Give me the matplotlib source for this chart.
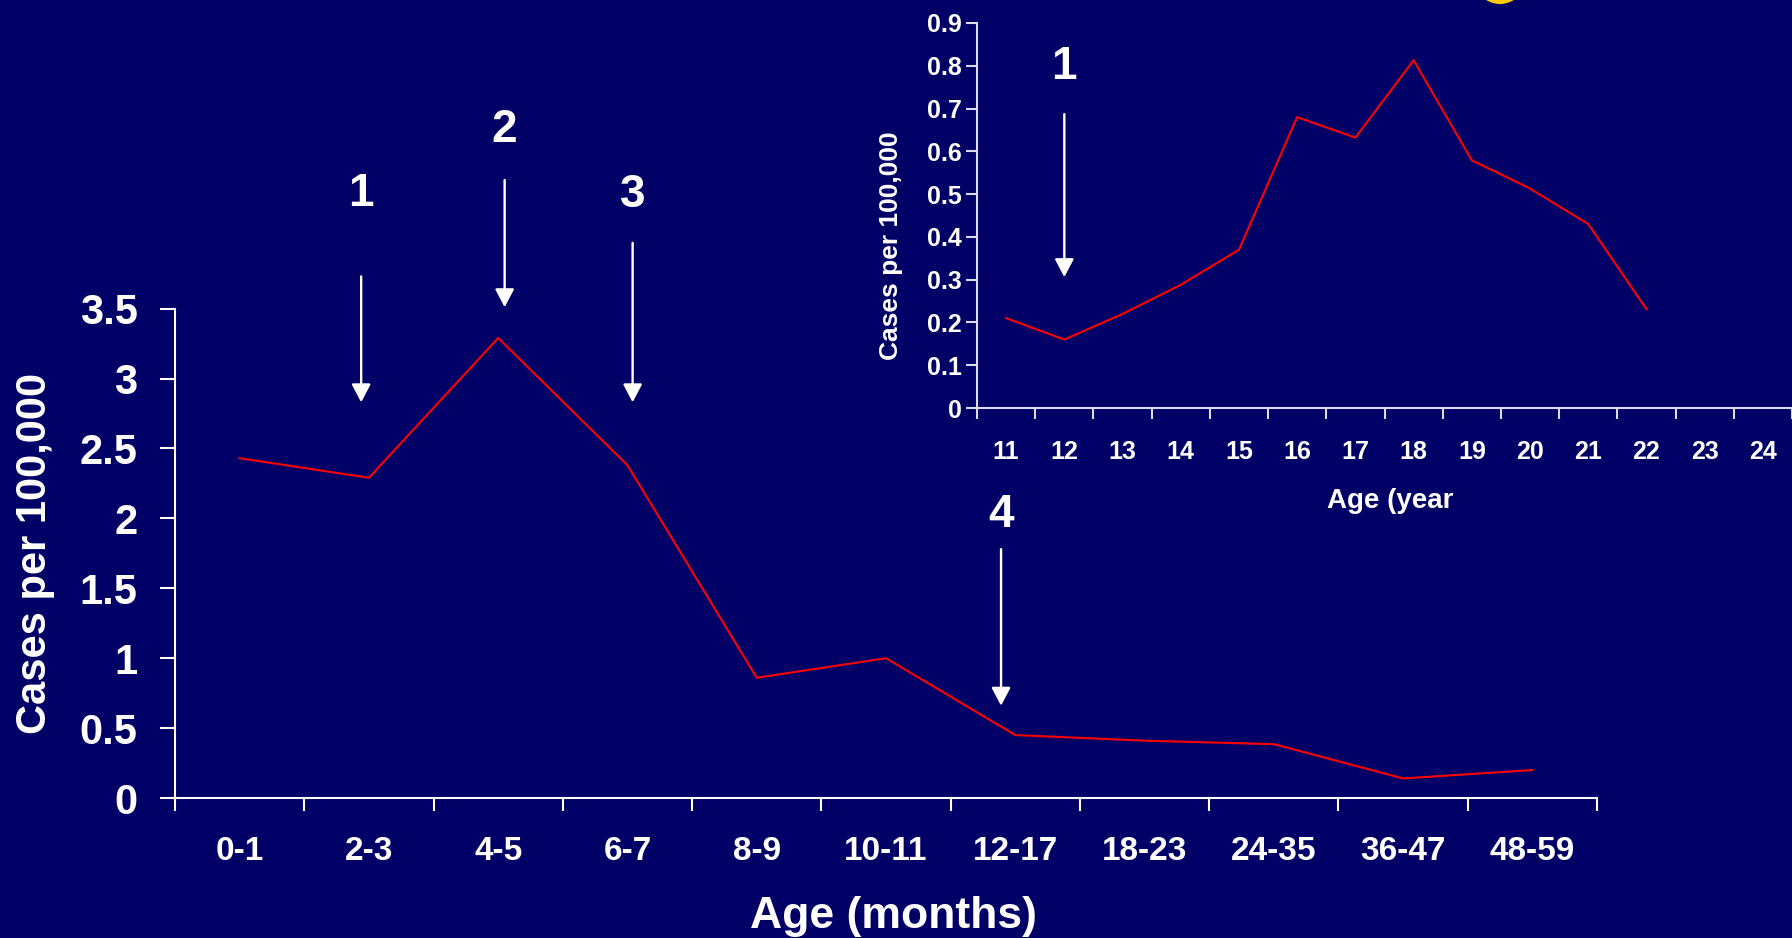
import matplotlib
matplotlib.use('Agg')
import matplotlib.pyplot as plt
import matplotlib.patches as patches

plt.rcParams['font.family'] = ['Liberation Sans', 'DejaVu Sans']
plt.rcParams['font.weight'] = 'bold'

bg = '#000066'
red = '#ff0000'

# incidence by age in months
month_groups = ['0-1', '2-3', '4-5', '6-7', '8-9', '10-11',
                '12-17', '18-23', '24-35', '36-47', '48-59']
month_rates = [2.43, 2.29, 3.29, 2.38, 0.86, 1.00,
               0.45, 0.41, 0.385, 0.14, 0.20]
month_yticks = [0, 0.5, 1, 1.5, 2, 2.5, 3, 3.5]
month_ylabels = ['0', '0.5', '1', '1.5', '2', '2.5', '3', '3.5']

# incidence by age in years
year_groups = ['11', '12', '13', '14', '15', '16', '17', '18',
               '19', '20', '21', '22', '23', '24']
year_rates = [0.21, 0.16, 0.22, 0.288, 0.37, 0.68, 0.632, 0.813,
              0.579, 0.513, 0.43, 0.231]
year_yticks = [0, 0.1, 0.2, 0.3, 0.4, 0.5, 0.6, 0.7, 0.8, 0.9]

# numbered arrows: label, x, arrow top, arrow tip, label y
main_arrows = [('1', 1.44, 3.73, 2.83, 4.32),
               ('2', 2.55, 4.42, 3.51, 4.78),
               ('3', 3.54, 3.97, 2.83, 4.31),
               ('4', 6.39, 1.78, 0.66, 2.025)]
inset_arrows = [('1', 1.50, 0.687, 0.306, 0.798)]

fig = plt.figure(figsize=(17.92, 9.38), dpi=100, facecolor=bg)

# yellow blob poking in at the top edge
fig.patches.append(patches.Ellipse((1500 / 1792, (938 + 22) / 938), 52 / 1792, 52 / 938,
                                   transform=fig.transFigure, facecolor='#ffcc00',
                                   edgecolor='none', zorder=0))


def draw_arrows(ax, arrows, size):
    for lab, x, y0, y1, ly in arrows:
        ax.annotate('', xy=(x, y1), xytext=(x, y0), xycoords='data',
                    annotation_clip=False,
                    arrowprops=dict(arrowstyle='-|>,head_length=0.55,head_width=0.29',
                                    mutation_scale=20, color='white', lw=1.7,
                                    shrinkA=0, shrinkB=0))
        ax.text(x, ly, lab, color='white', fontsize=size, fontweight='bold',
                ha='center', va='center', clip_on=False)


# main chart
ax = fig.add_axes([175 / 1792, 140 / 938, 1422 / 1792, 489.4 / 938])
ax.set_facecolor(bg)
xs = [i + 0.5 for i in range(len(month_groups))]
ax.plot(xs, month_rates, color=red, lw=1.5)
ax.set_xlim(0, len(month_groups))
ax.set_ylim(0, 3.5)
ax.set_xticks(range(len(month_groups) + 1))
ax.set_xticklabels([])
ax.set_xticks(xs, minor=True)
ax.set_xticklabels(month_groups, minor=True, fontsize=24, fontweight='bold', color='white')
ax.tick_params(axis='x', which='major', direction='out', length=9, width=1.5, colors='white')
ax.tick_params(axis='x', which='minor', length=0, pad=27)
ax.set_yticks(month_yticks)
ax.set_yticklabels(month_ylabels, fontsize=30, fontweight='bold', color='white')
ax.tick_params(axis='y', direction='out', length=11, width=1.5, colors='white', pad=16)
for s in ['top', 'right']:
    ax.spines[s].set_visible(False)
for s in ['left', 'bottom']:
    ax.spines[s].set_color('white')
    ax.spines[s].set_linewidth(1.5)
ax.set_ylabel('Cases per 100,000', fontsize=30, fontweight='bold', color='white')
ax.yaxis.set_label_coords(-0.0986, 0.5)
ax.yaxis.label.set_va('center')
ax.set_xlabel('Age (months)', fontsize=32, fontweight='bold', color='white')
ax.xaxis.set_label_coords(0.505, -0.243)
ax.xaxis.label.set_va('center')
draw_arrows(ax, main_arrows, 33)

# inset: ages in years
axi = fig.add_axes([977 / 1792, 530 / 938, 815 / 1792, 385 / 938])
axi.set_facecolor(bg)
xi = [i + 0.5 for i in range(len(year_rates))]
axi.plot(xi, year_rates, color=red, lw=1.5)
axi.set_xlim(0, 815 / 58.6)
axi.set_ylim(0, 0.9)
axi.set_xticks(range(len(year_groups) + 1))
axi.set_xticklabels([])
axi.set_xticks([i + 0.5 for i in range(len(year_groups))], minor=True)
axi.set_xticklabels(year_groups, minor=True, fontsize=18, fontweight='bold', color='white')
axi.tick_params(axis='x', which='major', direction='out', length=8, width=1.5, colors='#dcdce8')
axi.tick_params(axis='x', which='minor', length=0, pad=23, labelcolor='white')
axi.set_yticks(year_yticks)
axi.set_yticklabels([str(v) if v else '0' for v in year_yticks],
                    fontsize=18, fontweight='bold', color='white')
axi.tick_params(axis='y', direction='out', length=8, width=1.5, colors='#dcdce8',
                labelcolor='white', pad=3)
for s in ['top', 'right']:
    axi.spines[s].set_visible(False)
for s in ['left', 'bottom']:
    axi.spines[s].set_color('#dcdce8')
    axi.spines[s].set_linewidth(1.5)
axi.set_ylabel('Cases per 100,000', fontsize=19, fontweight='bold', color='white')
axi.yaxis.set_label_coords((891 - 977) / 815, (408 - 246) / 385)
axi.yaxis.label.set_va('center')
axi.set_xlabel('Age (year', fontsize=20, fontweight='bold', color='white')
axi.xaxis.set_label_coords(0.507, -0.242)
axi.xaxis.label.set_va('center')
draw_arrows(axi, inset_arrows, 33)

fig.savefig('out.png', dpi=100, facecolor=bg)
